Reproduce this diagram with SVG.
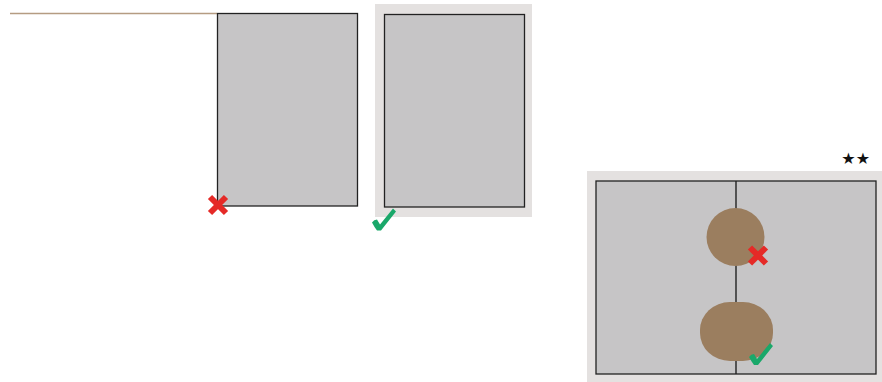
<svg xmlns="http://www.w3.org/2000/svg" width="882" height="382" viewBox="0 0 882 382">
<style>
.bg{fill:#e4e1e0}
.box{fill:#c6c5c6;stroke:#222;stroke-width:1.3}
.x{stroke:#e52a27;stroke-width:6;stroke-linecap:butt}
.ok{fill:#1aa86a}
.blob{fill:#9b7e5f}
</style>
<defs>
<g id="cross"><line class="x" x1="-8" y1="-8" x2="8" y2="8"/><line class="x" x1="-8" y1="8" x2="8" y2="-8"/></g>
<path id="tick" d="M0,14 Q2,11 5,11 L8,16 L21,0 L24,3 L9,22 L5,22 Q2,18 0,14 Z"/>
</defs>
<g id="connectors">
<line x1="10" y1="13.5" x2="217" y2="13.5" stroke="#b59c82" stroke-width="1.5"/>
</g>
<g id="node-left">
<rect class="box" x="217.5" y="13.5" width="140" height="192.5"/>
<use href="#cross" x="218" y="205"/>
</g>
<g id="node-middle">
<rect class="bg" x="375" y="4" width="157" height="213"/>
<rect class="box" x="384.5" y="14.5" width="140" height="192.5"/>
<use href="#tick" class="ok" x="372" y="208.5"/>
</g>
<g id="node-right">
<text x="870" y="164" font-family="DejaVu Sans, sans-serif" font-size="16" text-anchor="end" fill="#111">★★</text>
<rect class="bg" x="587" y="171" width="295" height="211"/>
<rect class="box" x="596" y="181" width="280" height="193"/>
<line x1="736" y1="181" x2="736" y2="374" stroke="#222" stroke-width="1.4"/>
<circle class="blob" cx="735.5" cy="237" r="29"/>
<rect class="blob" x="700" y="302" width="73" height="59" rx="30" ry="28"/>
<use href="#cross" x="758" y="255.5"/>
<use href="#tick" class="ok" x="749" y="343"/>
</g>
</svg>
